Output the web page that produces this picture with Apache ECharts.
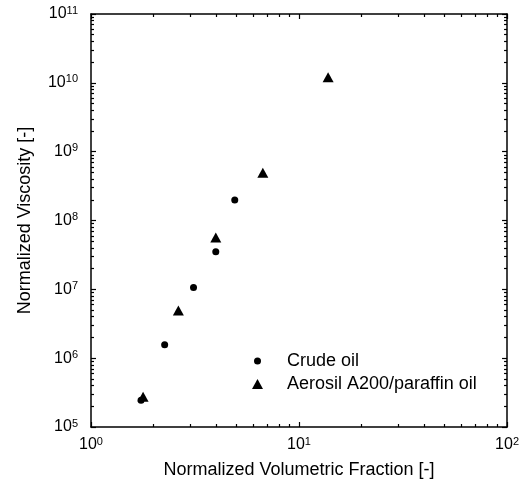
<!DOCTYPE html>
<html>
<head>
<meta charset="utf-8">
<script src="https://cdn.jsdelivr.net/npm/echarts@6/dist/echarts.min.js"></script>
<style>
html,body{margin:0;padding:0;background:#fff;}
#chart{width:522px;height:491px;}
</style>
</head>
<body>
<div id="chart"></div>
<script>
// ---- data ----
const seriesNames = ['Crude oil', 'Aerosil A200/paraffin oil'];
const crudeX = [1.74, 2.26, 3.11, 3.98, 4.91];
const crudeY = [2.45e5, 1.56e6, 1.06e7, 3.51e7, 1.98e8];
const aerosilX = [1.78, 2.63, 3.98, 6.70, 13.8];
const aerosilY = [2.74e5, 4.93e6, 5.68e7, 4.93e8, 1.21e10];

const xMajorTicks = [1, 10, 100];
const yMajorTicks = [1e5, 1e6, 1e7, 1e8, 1e9, 1e10, 1e11];
const minorMultipliers = [2, 3, 4, 5, 6, 7, 8, 9];
const xDecades = [1, 10];
const yDecades = [1e5, 1e6, 1e7, 1e8, 1e9, 1e10];

const xTitle = 'Normalized Volumetric Fraction [-]';
const yTitle = 'Normalized Viscosity [-]';

// ---- build ----
const minorOf = (decs) => {
  const out = [];
  decs.forEach(d => minorMultipliers.forEach(m => out.push(+(d * m).toPrecision(6))));
  return out;
};
const xMinorTicks = minorOf(xDecades);
const yMinorTicks = minorOf(yDecades);

const FONT = 'Liberation Sans, Arial, Helvetica, sans-serif';
const lineStyle = {color: '#000', width: 1.5};

const expLabel = v => '{b|10}{s|' + Math.round(Math.log10(v)) + '}';
const rich = {
  b: {fontSize: 16, fontFamily: FONT, color: '#000', lineHeight: 18},
  s: {fontSize: 11, fontFamily: FONT, color: '#000', lineHeight: 11, verticalAlign: 'top'}
};

function logAxis(kind, opts) {
  const isX = kind === 'x';
  const major = isX ? xMajorTicks : yMajorTicks;
  const minor = isX ? xMinorTicks : yMinorTicks;
  const ax = {
    type: 'log',
    logBase: 10,
    min: isX ? 1 : 1e5,
    max: isX ? 100 : 1e11,
    position: opts.position,
    gridIndex: 0,
    splitLine: {show: false},
    minorTick: {show: false},
    axisLine: {show: !!opts.line, onZero: false, lineStyle: lineStyle},
    axisTick: {
      show: true, inside: true,
      length: opts.minor ? 3 : 5,
      lineStyle: {color: '#000', width: 1.2},
      customValues: opts.minor ? minor : major
    },
    axisLabel: {show: false},
    axisPointer: {show: false}
  };
  if (opts.labels) {
    ax.axisLabel = {
      show: true,
      customValues: major,
      formatter: expLabel,
      rich: rich,
      margin: isX ? 9 : 13,
      showMinLabel: true,
      showMaxLabel: true,
      hideOverlap: false
    };
  }
  if (opts.name) {
    ax.name = opts.name;
    ax.nameLocation = 'middle';
    ax.nameGap = isX ? 34 : 57;
    ax.nameTextStyle = {fontSize: 18, fontFamily: FONT, color: '#000'};
  }
  return ax;
}

const option = {
  backgroundColor: '#fff',
  animation: false,
  grid: {left: 91, right: 14, top: 14, bottom: 64, containLabel: false},
  xAxis: [
    logAxis('x', {position: 'bottom', line: true, labels: true, name: xTitle}),
    logAxis('x', {position: 'bottom', minor: true}),
    logAxis('x', {position: 'top', line: true}),
    logAxis('x', {position: 'top', minor: true})
  ],
  yAxis: [
    logAxis('y', {position: 'left', line: true, labels: true, name: yTitle}),
    logAxis('y', {position: 'left', minor: true}),
    logAxis('y', {position: 'right', line: true}),
    logAxis('y', {position: 'right', minor: true})
  ],
  legend: [
    {
      data: [seriesNames[0]], orient: 'vertical', left: 254, top: 351, padding: 0,
      itemWidth: 7, itemHeight: 7, selectedMode: false,
      textStyle: {fontSize: 18, fontFamily: FONT, color: '#000', lineHeight: 20, padding: [0, 0, 0, 21]}
    },
    {
      data: [seriesNames[1]], orient: 'vertical', left: 252, top: 374, padding: 0,
      itemWidth: 11, itemHeight: 10, selectedMode: false,
      textStyle: {fontSize: 18, fontFamily: FONT, color: '#000', lineHeight: 20, padding: [0, 0, 0, 19]}
    }
  ],
  series: [
    {
      name: seriesNames[0], type: 'scatter', xAxisIndex: 0, yAxisIndex: 0,
      symbol: 'circle', symbolSize: 7,
      itemStyle: {color: '#000', opacity: 1},
      data: crudeX.map((x, i) => [x, crudeY[i]])
    },
    {
      name: seriesNames[1], type: 'scatter', xAxisIndex: 0, yAxisIndex: 0,
      symbol: 'triangle', symbolSize: [11, 10],
      itemStyle: {color: '#000', opacity: 1},
      data: aerosilX.map((x, i) => [x, aerosilY[i]])
    }
  ]
};

const chart = echarts.init(document.getElementById('chart'), null, {renderer: 'canvas'});
chart.setOption(option);
</script>
</body>
</html>
